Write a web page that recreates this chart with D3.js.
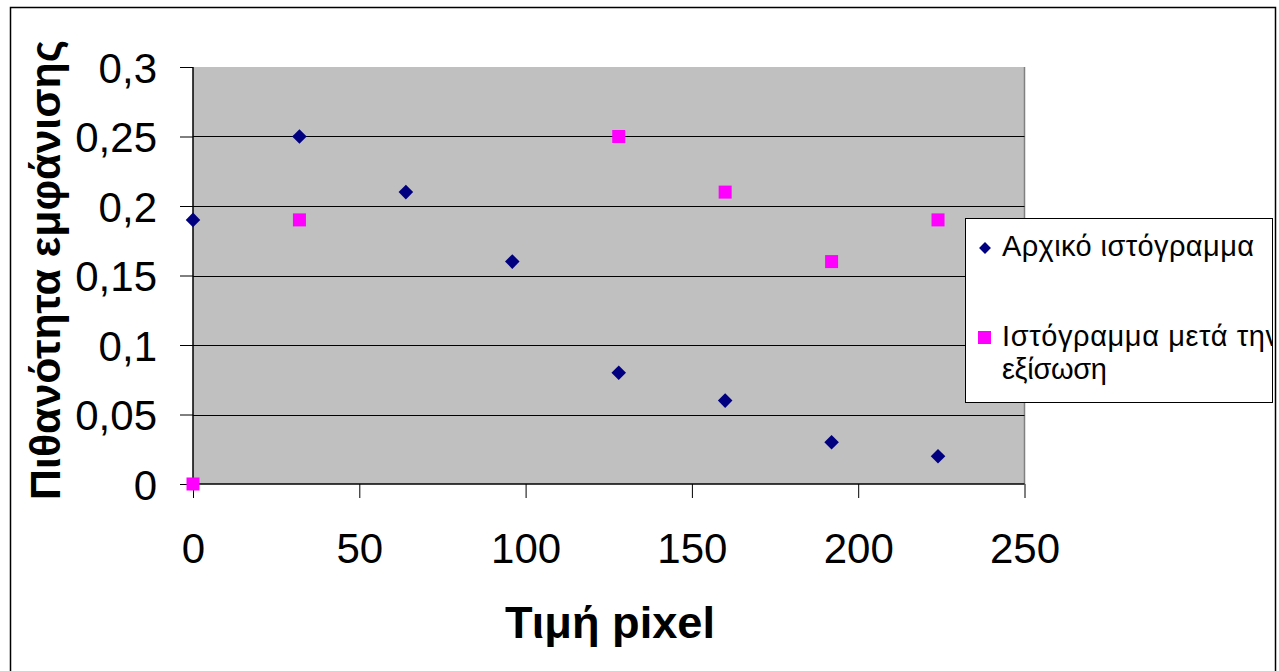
<!DOCTYPE html>
<html>
<head>
<meta charset="utf-8">
<script src="https://cdn.jsdelivr.net/npm/d3@7"></script>
<style>
  html, body { margin: 0; padding: 0; background: #fff; }
  svg { display: block; }
  text { font-family: "Liberation Sans", Arial, sans-serif; }
</style>
</head>
<body>
<svg id="chart" width="1279" height="671"></svg>
<script>
// ---- data ----
const originalX = [0, 32, 64, 96, 128, 160, 192, 224];
const originalY = [0.19, 0.25, 0.21, 0.16, 0.08, 0.06, 0.03, 0.02];
const equalizedX = [0, 32, 128, 160, 192, 224];
const equalizedY = [0, 0.19, 0.25, 0.21, 0.16, 0.19];
const xTicks = [0, 50, 100, 150, 200, 250];
const yTicks = [0, 0.05, 0.1, 0.15, 0.2, 0.25, 0.3];
const seriesNames = ["Αρχικό ιστόγραμμα", "Ιστόγραμμα μετά την", "εξίσωση"];
const xTitle = "Τιμή pixel";
const yTitle = "Πιθανότητα εμφάνισης";

(function () {
const svg = d3.select("#chart");
const pL = 193, pR = 1024.5, pT = 67, pB = 484;

const x = d3.scaleLinear().domain([0, 250]).range([pL, pR]);
const y = d3.scaleLinear().domain([0, 0.3]).range([pB, pT]);
const fmt = d => String(d).replace(".", ",");

// outer chart border
svg.append("rect").attr("x", 10.5).attr("y", 7.5).attr("width", 1265).attr("height", 700)
  .attr("fill", "#fff").attr("stroke", "#000").attr("stroke-width", 1.5);

// plot area
svg.append("rect").attr("x", pL).attr("y", pT).attr("width", pR - pL).attr("height", pB - pT)
  .attr("fill", "#c0c0c0");
svg.append("line").attr("x1", pR).attr("x2", pR).attr("y1", pT).attr("y2", pB)
  .attr("stroke", "#808080").attr("stroke-width", 1.5);

// gridlines
svg.append("g").selectAll("line").data(yTicks.filter(t => t > 0 && t < 0.3)).join("line")
  .attr("x1", pL).attr("x2", pR)
  .attr("y1", d => Math.round(y(d)) + 0.5).attr("y2", d => Math.round(y(d)) + 0.5)
  .attr("stroke", "#000").attr("stroke-width", 1);

// y axis
const yAxis = d3.axisLeft(y).tickValues(yTicks).tickFormat(fmt).tickSize(13).tickPadding(23);
const gy = svg.append("g").attr("transform", `translate(${pL},0)`).call(yAxis);
gy.select(".domain").attr("stroke", "#000").attr("stroke-width", 1.5).attr("d", `M0,${pT}V${pB}`);
gy.selectAll(".tick line").attr("stroke", "#000");
gy.selectAll(".tick text").attr("font-size", 42).attr("fill", "#000")
  .attr("font-family", "'Liberation Sans', Arial, sans-serif").attr("dy", "0.36em");

// x axis
const xAxis = d3.axisBottom(x).tickValues(xTicks).tickSize(14).tickPadding(0);
const gx = svg.append("g").attr("transform", `translate(0,${pB})`).call(xAxis);
gx.select(".domain").attr("stroke", "#000").attr("stroke-width", 1.5).attr("d", `M${pL},0H${pR}`);
gx.selectAll(".tick line").attr("stroke", "#000");
gx.selectAll(".tick text").attr("font-size", 42).attr("fill", "#000")
  .attr("font-family", "'Liberation Sans', Arial, sans-serif")
  .attr("dy", null).attr("y", 79);

// axis titles
svg.append("text").attr("x", 610).attr("y", 638).attr("text-anchor", "middle")
  .attr("font-size", 44).attr("font-weight", "bold")
  .attr("textLength", 210).attr("lengthAdjust", "spacingAndGlyphs").text(xTitle);
svg.append("text").attr("transform", "translate(60,270) rotate(-90)").attr("text-anchor", "middle")
  .attr("font-size", 43).attr("font-weight", "bold")
  .attr("textLength", 460).attr("lengthAdjust", "spacingAndGlyphs").text(yTitle);

// markers
const diamond = d3.symbol().type(d3.symbolDiamond2).size(135);
svg.append("g").selectAll("path").data(originalX.map((d, i) => [d, originalY[i]])).join("path")
  .attr("d", diamond).attr("transform", d => `translate(${x(d[0])},${y(d[1])})`)
  .attr("fill", "#000080");
svg.append("g").selectAll("rect").data(equalizedX.map((d, i) => [d, equalizedY[i]])).join("rect")
  .attr("x", d => x(d[0]) - 6.5).attr("y", d => y(d[1]) - 6.5).attr("width", 13).attr("height", 13)
  .attr("fill", "#ff00ff");

// legend
const lg = svg.append("g");
svg.append("clipPath").attr("id", "lgclip").append("rect")
  .attr("x", 965).attr("y", 218).attr("width", 307).attr("height", 184);
lg.append("rect").attr("x", 965.5).attr("y", 218.5).attr("width", 307).attr("height", 184)
  .attr("fill", "#fff").attr("stroke", "#000").attr("stroke-width", 1);
lg.append("path").attr("d", d3.symbol().type(d3.symbolDiamond2).size(90))
  .attr("transform", "translate(985,248)").attr("fill", "#000080");
lg.append("rect").attr("x", 978).attr("y", 331).attr("width", 13).attr("height", 13).attr("fill", "#ff00ff");
const lt = lg.append("g").attr("clip-path", "url(#lgclip)");
lt.append("text").attr("x", 1002).attr("y", 256).attr("font-size", 29)
  .attr("textLength", 252).attr("lengthAdjust", "spacing").text(seriesNames[0]);
lt.append("text").attr("x", 1002).attr("y", 346).attr("font-size", 29)
  .attr("textLength", 278).attr("lengthAdjust", "spacing").text(seriesNames[1]);
lt.append("text").attr("x", 1002).attr("y", 379).attr("font-size", 29)
  .attr("textLength", 105).attr("lengthAdjust", "spacing").text(seriesNames[2]);
})();
</script>
</body>
</html>
